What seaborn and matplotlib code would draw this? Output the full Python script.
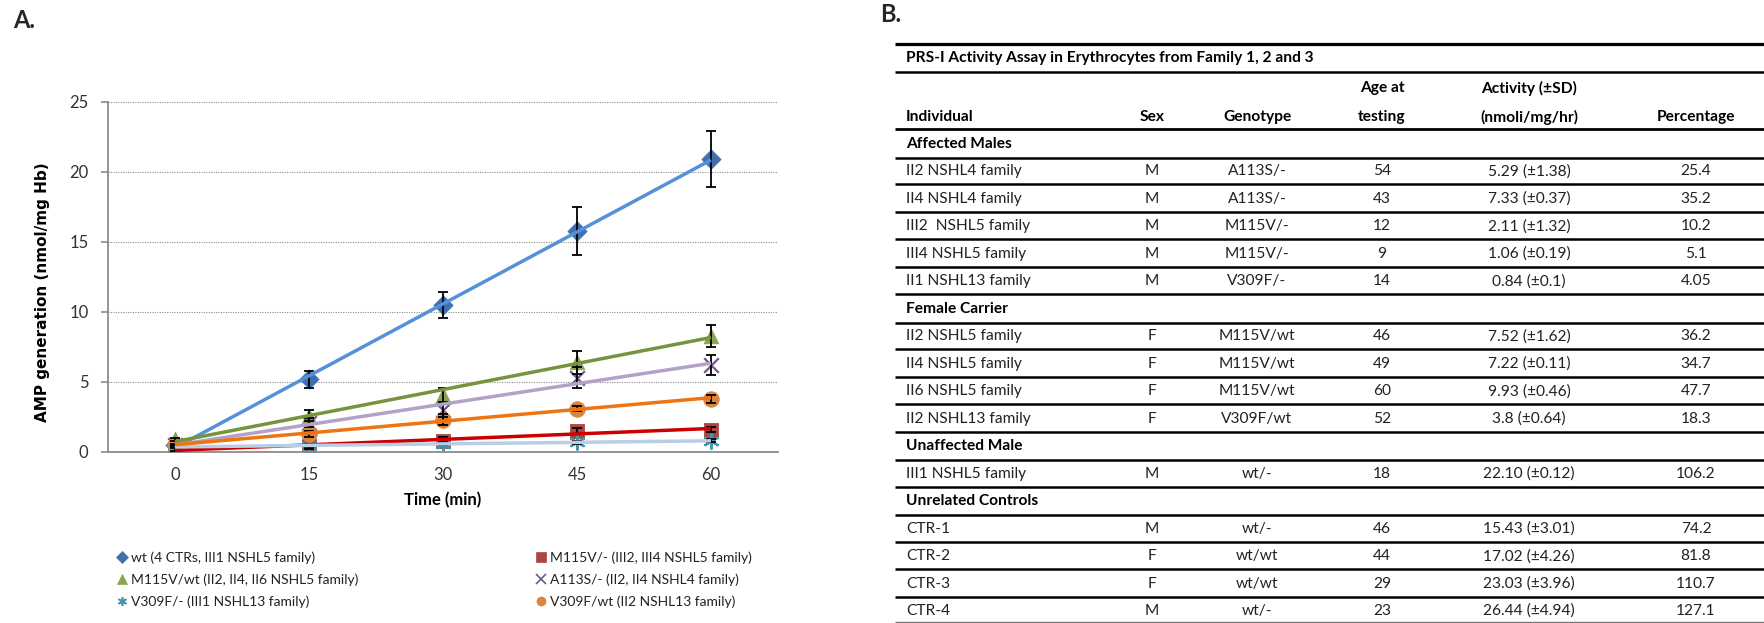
import numpy as np
import matplotlib
matplotlib.use('Agg')
import matplotlib.pyplot as plt
from matplotlib.lines import Line2D
import seaborn as sns
import warnings
warnings.filterwarnings('ignore')

W, H = 1764, 623

# ---- panel A data ----
times = [0, 15, 30, 45, 60]
series_labels = ['wt (4 CTRs, III1 NSHL5 family)', 'M115V/- (III2, III4 NSHL5 family)',
                 'M115V/wt (II2, II4, II6 NSHL5 family)', 'A113S/- (II2, II4 NSHL4 family)',
                 'V309F/- (III1 NSHL13 family)', 'V309F/wt (II2 NSHL13 family)']
wt_mean = [0.5, 5.2, 10.5, 15.8, 20.9]
wt_sd = [0.1, 0.6, 0.9, 1.7, 2.0]
m115v_hemi_mean = [0.2, 0.4, 0.8, 1.5, 1.6]
m115v_hemi_sd = [0.1, 0.2, 0.3, 0.2, 0.2]
m115v_het_mean = [0.9, 2.6, 4.1, 6.4, 8.3]
m115v_het_sd = [0.1, 0.4, 0.5, 0.8, 0.8]
a113s_mean = [0.5, 2.1, 3.0, 5.3, 6.2]
a113s_sd = [0.1, 0.3, 0.5, 0.75, 0.7]
v309f_hemi_mean = [0.4, 0.4, 0.6, 0.7, 0.8]
v309f_hemi_sd = [0.05, 0.1, 0.1, 0.1, 0.1]
v309f_het_mean = [0.5, 1.3, 2.3, 3.1, 3.8]
v309f_het_sd = [0.1, 0.2, 0.4, 0.2, 0.3]

means = [wt_mean, m115v_hemi_mean, m115v_het_mean, a113s_mean, v309f_hemi_mean, v309f_het_mean]
sds = [wt_sd, m115v_hemi_sd, m115v_het_sd, a113s_sd, v309f_hemi_sd, v309f_het_sd]
markers = ['D', 's', '^', 'x', (6, 2, 0), 'o']
marker_colors = ['#3F6FAE', '#AA4643', '#89A54E', '#71588F', '#4198AF', '#DB843D']
line_colors = ['#5591D8', '#CC0000', '#77933C', '#B3A2C7', '#B9CDE5', '#EE7411']
marker_sizes = [95, 90, 110, 110, 110, 125]

# ---- panel B data ----
table_title = 'PRS-I Activity Assay in Erythrocytes from Family 1, 2 and 3'
groups = ['Affected Males', 'Female Carrier', 'Unaffected Male', 'Unrelated Controls']
group_sizes = [5, 4, 1, 4]
individual = ['II2 NSHL4 family', 'II4 NSHL4 family', 'III2  NSHL5 family', 'III4 NSHL5 family',
              'II1 NSHL13 family', 'II2 NSHL5 family', 'II4 NSHL5 family', 'II6 NSHL5 family',
              'II2 NSHL13 family', 'III1 NSHL5 family', 'CTR-1', 'CTR-2', 'CTR-3', 'CTR-4']
sex = ['M', 'M', 'M', 'M', 'M', 'F', 'F', 'F', 'F', 'M', 'M', 'F', 'F', 'M']
genotype = ['A113S/-', 'A113S/-', 'M115V/-', 'M115V/-', 'V309F/-', 'M115V/wt', 'M115V/wt',
            'M115V/wt', 'V309F/wt', 'wt/-', 'wt/-', 'wt/wt', 'wt/wt', 'wt/-']
age = ['54', '43', '12', '9', '14', '46', '49', '60', '52', '18', '46', '44', '29', '23']
activity = ['5.29 (±1.38)', '7.33 (±0.37)', '2.11 (±1.32)', '1.06 (±0.19)', '0.84 (±0.1)',
            '7.52 (±1.62)', '7.22 (±0.11)', '9.93 (±0.46)', '3.8 (±0.64)', '22.10 (±0.12)',
            '15.43 (±3.01)', '17.02 (±4.26)', '23.03 (±3.96)', '26.44 (±4.94)']
percentage = ['25.4', '35.2', '10.2', '5.1', '4.05', '36.2', '34.7', '47.7', '18.3', '106.2',
              '74.2', '81.8', '110.7', '127.1']

sns.set_style('white')
plt.rcParams['font.family'] = ['Lato', 'DejaVu Sans']

fig = plt.figure(figsize=(W / 100, H / 100), dpi=100)
fig.patch.set_facecolor('white')

# ── table (pixel coordinates) ───────────────────────────────────────────────
tax = fig.add_axes([0, 0, 1, 1], zorder=0)
tax.set_xlim(0, W); tax.set_ylim(H, 0); tax.axis('off')
TX0, TX1 = 895, 1764
col_x = [906, 1152, 1257, 1382, 1529, 1696]
TXT = '#222222'
FS = 11.2

tax.hlines(44, TX0, TX1, color='black', lw=2.3)
tax.text(col_x[0], 58, table_title, fontsize=FS, fontweight='bold', va='center', color='black')
tax.hlines(72, TX0, TX1, color='black', lw=1.8)
hdr_top = ['', '', '', 'Age at', 'Activity (±SD)', '']
hdr_bot = ['Individual', 'Sex', 'Genotype', 'testing', '(nmoli/mg/hr)', 'Percentage']
for i, (t, b) in enumerate(zip(hdr_top, hdr_bot)):
    ha = 'left' if i == 0 else 'center'
    if t:
        tax.text(col_x[i], 88, t, fontsize=FS, fontweight='bold', ha=ha, va='center', color='black')
    tax.text(col_x[i], 117, b, fontsize=FS, fontweight='bold', ha=ha, va='center', color='black')
tax.hlines(129, TX0, TX1, color='black', lw=2.0)

pitch = 27.47
y = 144
k = 0
for g, n in zip(groups, group_sizes):
    tax.text(col_x[0], y, g, fontsize=FS, fontweight='bold', va='center', color='black')
    tax.hlines(y + 14, TX0, TX1, color='black', lw=1.8)
    y += pitch
    for _ in range(n):
        vals = [individual[k], sex[k], genotype[k], age[k], activity[k], percentage[k]]
        for i, v in enumerate(vals):
            tax.text(col_x[i], y, v, fontsize=FS, ha='left' if i == 0 else 'center',
                     va='center', color=TXT)
        last = (k == len(individual) - 1)
        if last:
            tax.hlines(621.5, TX0, TX1, color='#777777', lw=1.0)
        else:
            tax.hlines(y + 13, TX0, TX1, color='black', lw=1.8)
        y += pitch
        k += 1

fig.text(13 / W, 1 - 21 / H, 'A.', fontsize=17, fontweight='bold', va='center', ha='left')
fig.text(880 / W, 1 - 15 / H, 'B.', fontsize=17, fontweight='bold', va='center', ha='left')

# ── line chart ─────────────────────────────────────────────────────────────
ax = fig.add_axes([108 / W, 1 - 452 / H, 670 / W, 350 / H], zorder=1)
ax.set_facecolor('none')
x = np.array(times, dtype=float)
for i in range(6):
    yv = np.array(means[i])
    m = markers[i]
    filled = m not in ('x', (6, 2, 0))
    sns.scatterplot(x=x, y=yv, marker=m, color=marker_colors[i], s=marker_sizes[i],
                    edgecolor=marker_colors[i], linewidth=0.6 if filled else 1.6,
                    ax=ax, zorder=2, legend=False)
    ax.errorbar(x, yv, yerr=sds[i], fmt='none', ecolor='black', elinewidth=1.3,
                capsize=3.5, capthick=1.3, zorder=3)
for i in range(6):
    sns.regplot(x=x, y=np.array(means[i]), scatter=False, ci=None, color=line_colors[i],
                line_kws={'lw': 2.5, 'zorder': 4, 'solid_capstyle': 'butt'}, ax=ax, truncate=True)

ax.set_xlim(-7.5, 67.5)
ax.set_ylim(0, 25)
ax.set_yticks([0, 5, 10, 15, 20, 25])
ax.set_xticks(times)
ax.set_xticks([7.5, 22.5, 37.5, 52.5, 67.5], minor=True)
ax.set_xticklabels([str(t) for t in times])
ax.yaxis.grid(True, linestyle=(0, (1, 1.2)), color='#8C8C8C', lw=0.8, zorder=0)
ax.xaxis.grid(False)
ax.set_axisbelow(True)
for sp in ['top', 'right']:
    ax.spines[sp].set_visible(False)
for sp in ['left', 'bottom']:
    ax.spines[sp].set_color('#8C8C8C')
    ax.spines[sp].set_linewidth(1.3)
ax.tick_params(axis='x', which='major', length=0, pad=11, labelsize=12, colors='#333333')
ax.tick_params(axis='x', which='minor', length=5, width=1.2, color='#8C8C8C', direction='out')
ax.tick_params(axis='y', which='major', length=5, width=1.2, color='#8C8C8C', direction='out',
               pad=9, labelsize=12, labelcolor='#333333', left=True)
ax.set_ylabel('AMP generation (nmol/mg Hb)', fontsize=11, fontweight='bold',
              family=['DejaVu Sans'], color='black')
ax.yaxis.set_label_coords(-0.087, 0.457)
ax.set_xlabel('Time (min)', fontsize=12, fontweight='bold', color='black')
ax.xaxis.set_label_coords(0.5, -0.113)

handles = []
order = [0, 2, 4, 1, 3, 5]
for i in order:
    m = markers[i]
    filled = m not in ('x', (6, 2, 0))
    handles.append(Line2D([], [], linestyle='none', marker=m, color=marker_colors[i],
                          markersize=6.5, markeredgewidth=0.5 if filled else 1.2))
fig.legend(handles, [series_labels[i] for i in order], ncol=2, loc='upper left',
           bbox_to_anchor=(118 / W, 1 - 551 / H), frameon=False, fontsize=10,
           handlelength=0.6, handletextpad=0.35, columnspacing=12.8, labelspacing=0.68,
           borderaxespad=0, borderpad=0, labelcolor='#222222')

plt.savefig('out.png', dpi=100, facecolor='white')
plt.close()
